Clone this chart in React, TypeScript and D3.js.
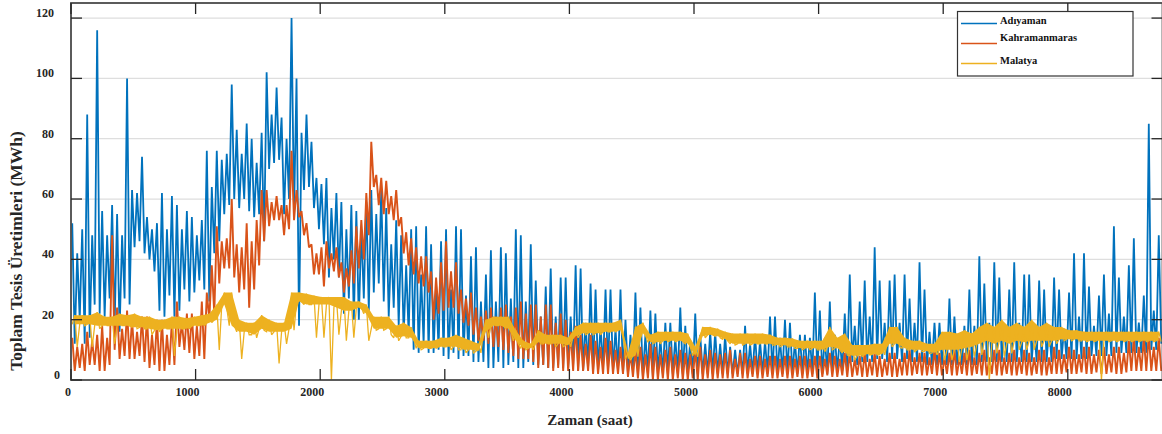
import React, { useRef, useEffect } from "react";
import * as d3 from "d3";

// hourly series summarised in 60 h bins: upper and lower value read per bin
const BIN_HOURS = 60;
// typical swing of each trace, read in 120 h steps
const CORE_HOURS = 120;

const adiyamanHi = [
  52, 50, 88, 116, 56, 58, 55, 100, 63, 74,
  54, 52, 62, 61, 58, 56, 54, 53, 76, 76,
  73, 98, 83, 85, 80, 82, 102, 97, 87, 120,
  100, 88, 79, 65, 67, 62, 59, 58, 56, 59,
  63, 63, 57, 53, 48, 50, 51, 51, 45, 46,
  50, 51, 50, 41, 44, 35, 43, 44, 42, 50,
  48, 45, 33, 31, 37, 34, 34, 38, 37, 32,
  30, 30, 30, 30, 20, 29, 24, 23, 22, 19,
  19, 24, 18, 22, 15, 16, 16, 15, 11, 10,
  18, 15, 13, 21, 21, 20, 19, 15, 15, 29,
  23, 26, 15, 22, 35, 26, 33, 44, 33, 33,
  35, 35, 27, 39, 30, 19, 19, 27, 21, 18,
  30, 41, 32, 39, 34, 30, 39, 35, 35, 33,
  30, 34, 30, 29, 42, 42, 31, 28, 35, 51,
  34, 38, 47, 28, 85, 48,
];
const adiyamanLo = [
  12, 12, 14, 22, 21, 18, 16, 25, 44, 42,
  40, 23, 21, 21, 23, 26, 29, 30, 26, 46,
  55, 60, 57, 56, 54, 46, 70, 73, 55, 55,
  18, 64, 57, 45, 34, 34, 22, 20, 20, 23,
  29, 26, 21, 18, 15, 10, 9, 9, 9, 8,
  7, 7, 8, 6, 6, 4, 4, 4, 5, 4,
  4, 5, 5, 4, 4, 4, 4, 3, 3, 3,
  3, 3, 3, 2, 2, 1, 1, 1, 2, 2,
  2, 2, 2, 2, 2, 2, 2, 2, 2, 2,
  2, 2, 2, 2, 2, 2, 2, 2, 2, 2,
  2, 3, 3, 4, 6, 6, 6, 7, 7, 7,
  7, 7, 6, 6, 5, 5, 5, 5, 5, 5,
  5, 6, 6, 6, 6, 6, 6, 6, 6, 6,
  6, 7, 7, 7, 7, 7, 8, 8, 8, 9,
  9, 9, 9, 9, 10, 12,
];
const adiyamanCoreLo = [
  20, 25, 27, 27, 46, 36, 28, 30, 33, 42,
  58, 60, 55, 72, 60, 63, 50, 40, 27, 27,
  32, 24, 15, 12, 10, 9, 8, 6, 6, 6,
  6, 5, 5, 5, 4, 4, 3, 3, 2, 2,
  2, 2, 2, 2, 2, 2, 2, 2, 2, 2,
  2, 3, 5, 6, 6, 6, 6, 5, 5, 5,
  5, 6, 6, 6, 6, 6, 7, 7, 8, 8,
  9, 9, 10,
];
const adiyamanCoreHi = [
  42, 48, 48, 48, 62, 50, 50, 50, 48, 64,
  75, 75, 72, 88, 80, 82, 67, 57, 50, 50,
  55, 45, 38, 35, 32, 30, 28, 26, 26, 27,
  26, 21, 21, 21, 19, 18, 17, 15, 15, 14,
  14, 13, 12, 12, 10, 12, 13, 14, 13, 14,
  14, 14, 18, 21, 19, 19, 19, 16, 15, 14,
  18, 19, 18, 19, 18, 18, 17, 21, 18, 22,
  21, 19, 23,
];

const kahramanmarasHi = [
  14, 12, 16, 15, 18, 48, 24, 23, 20, 21,
  21, 20, 20, 20, 26, 22, 22, 26, 29, 51,
  46, 60, 45, 52, 46, 63, 63, 61, 58, 76,
  63, 52, 45, 44, 46, 44, 39, 43, 51, 62,
  79, 67, 66, 63, 54, 47, 44, 41, 36, 39,
  46, 39, 30, 29, 24, 23, 24, 24, 25, 24,
  26, 25, 25, 25, 25, 22, 20, 18, 15, 15,
  13, 14, 13, 11, 12, 10, 11, 12, 11, 10,
  11, 10, 9, 10, 11, 10, 9, 9, 10, 9,
  9, 8, 8, 8, 8, 8, 8, 8, 8, 8,
  8, 9, 8, 9, 9, 8, 9, 9, 8, 9,
  9, 9, 10, 9, 9, 10, 9, 9, 10, 9,
  10, 9, 10, 10, 10, 9, 10, 10, 9, 10,
  10, 11, 10, 11, 10, 11, 11, 10, 11, 11,
  11, 13, 14, 14, 15, 14,
];
const kahramanmarasLo = [
  3, 3, 5, 3, 3, 10, 7, 7, 7, 6,
  4, 3, 3, 5, 11, 9, 7, 7, 20, 32,
  37, 34, 29, 24, 30, 46, 51, 53, 48, 53,
  54, 44, 35, 31, 37, 34, 29, 32, 37, 48,
  64, 55, 55, 51, 42, 35, 32, 29, 20, 23,
  24, 22, 19, 15, 13, 12, 11, 10, 9, 7,
  7, 6, 4, 4, 3, 3, 3, 3, 3, 2,
  2, 2, 2, 2, 1, 0.5, 0, 0, 0, 0,
  0, 0, 0, 0, 0, 0, 0.5, 0.5, 0.5, 0.5,
  0.5, 0.5, 0.5, 0.5, 0.5, 0.5, 0.5, 0.5, 0.5, 0.5,
  1, 1, 1, 1, 1, 1, 1, 1, 1, 1,
  1, 1.5, 1.5, 1.5, 1.5, 1.5, 1.5, 1.5, 1.5, 1.5,
  1.5, 1.5, 1.5, 1.5, 1.5, 1.5, 1.5, 1.5, 1.5, 1.5,
  1.5, 2, 2, 2, 2, 2, 2, 2, 2, 2,
  2, 3, 3, 3, 3, 3,
];
const kahramanmarasCoreLo = [
  4, 5, 5, 8, 8, 5, 5, 10, 8, 22,
  37, 30, 38, 53, 50, 48, 35, 36, 31, 40,
  58, 53, 38, 31, 22, 24, 18, 13, 11, 8,
  7, 5, 4, 3, 3, 2, 2, 1, 0.5, 0.5,
  0.5, 0.5, 0.5, 0.5, 1, 1, 1, 1, 1, 1,
  1.5, 1.5, 1.5, 1.5, 1.5, 1.5, 2, 2, 2, 2,
  2, 2, 2, 2, 2, 2, 2.5, 2.5, 2.5, 2.5,
  2.5, 3, 3,
];
const kahramanmarasCoreHi = [
  11, 13, 14, 17, 16, 15, 15, 19, 18, 38,
  47, 44, 53, 59, 58, 56, 42, 42, 37, 53,
  68, 61, 49, 41, 34, 36, 27, 21, 21, 21,
  22, 21, 19, 16, 12, 11, 10, 9, 8.5, 8.5,
  8.5, 8.5, 8.5, 8.5, 7, 7, 7, 7, 7, 7,
  7, 7, 7, 7, 7, 7, 7.5, 7.5, 7.5, 7.5,
  7.5, 7.5, 7.5, 7.5, 7.5, 7.5, 8.5, 8.5, 8.5, 8.5,
  9, 11, 11,
];

const malatyaHi = [
  21.5, 21.5, 21.5, 22.5, 21, 21, 22, 21.5, 22, 21,
  21, 20, 20, 21, 21, 20.5, 21, 21.5, 22, 25,
  29, 29, 20, 19, 19, 21.5, 20, 19, 19, 29,
  29, 28.6, 28, 27.5, 27.5, 27.5, 27.5, 26, 26, 25,
  21, 21, 21, 18, 19, 17.5, 13, 13, 13, 14,
  14, 15, 14, 13, 12, 20, 21, 21, 21, 16.5,
  13, 12, 16.5, 15, 15, 15, 14, 17.6, 19, 19,
  19, 19, 19, 20, 9, 17.6, 19, 15, 16, 16,
  16, 16, 15.4, 11, 17.6, 17.6, 17, 16, 15.4, 15.4,
  15.4, 15.4, 15.4, 15, 14, 14, 13.8, 13, 13, 13,
  13, 17.6, 14, 15.4, 11.6, 11.6, 11.6, 12, 12, 17.6,
  17.6, 14, 13, 13, 12, 12, 16, 16, 15.4, 16.5,
  15.4, 17.6, 19, 17.6, 20, 17.6, 19, 17.6, 20, 17.6,
  19, 17.6, 17.6, 16.5, 16.5, 16, 16, 16, 16, 16,
  16, 16, 16, 16, 16, 16,
];
const malatyaLo = [
  11, 18, 11, 17, 18, 12, 18, 18, 17, 17,
  15, 16, 17, 8, 17, 17, 18, 18, 19, 10,
  24, 18, 7, 15, 14, 16.5, 15, 5.5, 12, 16.5,
  26, 25, 14, 14, 0, 15, 13, 14, 24, 13,
  16.5, 16.5, 15, 13, 14, 14, 10, 10.5, 10.5, 11,
  10, 10, 9, 9, 9, 14, 18, 18, 16.5, 12,
  10, 10, 12, 12, 11, 11, 11, 14, 15, 15,
  15, 16, 16, 16, 6.6, 7.7, 15, 12, 12, 12.7,
  12.7, 12.7, 11, 7.7, 14, 15, 14, 13, 11.6, 11.6,
  11.6, 12, 12, 11.6, 11, 11, 10.5, 10, 10, 10,
  9.4, 10, 10, 8.3, 6.6, 7.7, 8.3, 8.3, 8.3, 11,
  11, 10, 9.4, 9.4, 8.8, 8.3, 6.6, 6.6, 6, 6.6,
  7.7, 8.3, 0, 8.8, 7.7, 8.8, 10, 10, 10, 11,
  11, 12, 13, 13, 13, 12.7, 12.7, 0, 12.7, 12.7,
  12.7, 12.7, 12.7, 12.7, 12.7, 12.7,
];
// lower edge of the thick yellow band, without the short dips
const malatyaCoreLo = [
  18.5, 18.5, 18.5, 18, 18, 18, 18, 18, 17.5, 17.5,
  17, 16.5, 17, 17, 17, 17, 18, 18, 19, 20,
  25, 18, 16, 16, 15, 17, 16, 16, 16, 17,
  26, 25, 25, 25, 25, 24, 23, 23, 24, 22,
  17, 17, 17, 14, 14.5, 14, 10.5, 10.5, 10.5, 11,
  11, 11, 10, 10, 9.5, 16, 18, 18, 17, 13,
  10.5, 10.5, 12.5, 12, 12, 12, 11.5, 14.5, 15.5, 15.5,
  15.5, 16, 16, 16.5, 7, 8, 15.5, 12.5, 12.5, 13,
  13, 13, 12, 8, 14.5, 15, 14.5, 13.5, 12, 12,
  12, 12, 12, 12, 11.5, 11.5, 11, 10.5, 10.5, 10.5,
  10, 11, 10.5, 9, 8, 8, 8.5, 8.5, 8.5, 12,
  12, 10.5, 10, 10, 9.5, 9, 10, 10, 10, 10.5,
  11, 12, 13, 12, 13, 12, 13, 12.5, 13, 13,
  13, 13, 13.5, 13.5, 13.5, 13, 13, 13, 13, 13,
  13, 13, 13, 13, 13, 13,
];

const seriesNames = ["Adıyaman", "Kahramanmaras", "Malatya"];
const seriesColors = ["#0072BD", "#D95319", "#EDB120"];
const xTicks = [0, 1000, 2000, 3000, 4000, 5000, 6000, 7000, 8000];
const yTicks = [0, 20, 40, 60, 80, 100, 120];

type Pt = [number, number];
type Band = [number, number, number];

// walk each 120 h step: bin peak, bin low, typical high, typical low, next bin peak, next bin low
function trace(hi: number[], lo: number[], coreHi: number[], coreLo: number[]): Pt[] {
  const pts: Pt[] = [];
  coreHi.forEach((c, j) => {
    const t0 = j * CORE_HOURS;
    const a = 2 * j;
    const b = 2 * j + 1;
    pts.push([t0 + 10, hi[a]]);
    pts.push([t0 + 30, lo[a]]);
    pts.push([t0 + 50, c]);
    pts.push([t0 + 70, coreLo[j]]);
    if (b < hi.length) {
      pts.push([t0 + 90, hi[b]]);
      pts.push([t0 + 110, lo[b]]);
    }
  });
  return pts;
}

// per 60 h bin: band bottom, band top, lowest dip
function bandTrace(hi: number[], lo: number[], bandLo: number[]): Pt[] {
  const pts: Pt[] = [];
  hi.forEach((h, i) => {
    const t0 = i * BIN_HOURS;
    pts.push([t0 + 10, bandLo[i]]);
    pts.push([t0 + 30, h]);
    pts.push([t0 + 50, lo[i]]);
  });
  return pts;
}

const W = 1162;
const H = 434;
const FONT = "'Liberation Serif', 'Times New Roman', serif";

export default function App() {
  const svgRef = useRef<SVGSVGElement>(null);

  useEffect(() => {
    const svg = d3.select(svgRef.current);
    svg.selectAll("*").remove();

    const left = 71;
    const right = 1162.5;
    const top = 3;
    const bottom = 380;

    const x = d3.scaleLinear().domain([0, 8760]).range([left, right]);
    const y = d3.scaleLinear().domain([0, 125]).range([bottom, top]);

    // grid
    svg
      .append("g")
      .selectAll("line")
      .data(yTicks.filter((d) => d > 0))
      .enter()
      .append("line")
      .attr("x1", left)
      .attr("x2", right)
      .attr("y1", (d) => y(d))
      .attr("y2", (d) => y(d))
      .attr("stroke", "#dedede")
      .attr("stroke-width", 1.3);

    svg
      .append("clipPath")
      .attr("id", "plot-clip")
      .append("rect")
      .attr("x", left)
      .attr("y", top)
      .attr("width", right - left)
      .attr("height", bottom - top);

    const line = d3
      .line<Pt>()
      .x((d) => x(d[0]))
      .y((d) => y(d[1]));

    const area = d3
      .area<Band>()
      .x((d) => x(d[0]))
      .y0((d) => y(d[1]))
      .y1((d) => y(d[2]));

    const plot = svg.append("g").attr("clip-path", "url(#plot-clip)");

    const drawLine = (pts: Pt[], color: string, w: number) =>
      plot
        .append("path")
        .datum(pts)
        .attr("fill", "none")
        .attr("stroke", color)
        .attr("stroke-width", w)
        .attr("stroke-linejoin", "miter")
        .attr("stroke-miterlimit", 2)
        .attr("d", line);

    drawLine(trace(adiyamanHi, adiyamanLo, adiyamanCoreHi, adiyamanCoreLo), seriesColors[0], 1.8);
    drawLine(
      trace(kahramanmarasHi, kahramanmarasLo, kahramanmarasCoreHi, kahramanmarasCoreLo),
      seriesColors[1],
      1.9,
    );

    // Malatya: thick band with its short dips
    const malatyaBand: Band[] = malatyaCoreLo.map((l, i) => [i * BIN_HOURS + 30, l, malatyaHi[i]]);
    plot.append("path").datum(malatyaBand).attr("fill", seriesColors[2]).attr("d", area);
    drawLine(bandTrace(malatyaHi, malatyaLo, malatyaCoreLo), seriesColors[2], 1.3);

    // box
    svg
      .append("rect")
      .attr("x", left)
      .attr("y", top)
      .attr("width", right - left)
      .attr("height", bottom - top)
      .attr("fill", "none")
      .attr("stroke", "#4a4a4a")
      .attr("stroke-width", 1.8);

    // ticks (inside, all four sides)
    const ticks = svg.append("g").attr("stroke", "#262626").attr("stroke-width", 1.3);
    xTicks.forEach((t) => {
      ticks.append("line").attr("x1", x(t)).attr("x2", x(t)).attr("y1", bottom).attr("y2", bottom - 11);
      ticks.append("line").attr("x1", x(t)).attr("x2", x(t)).attr("y1", top).attr("y2", top + 11);
    });
    yTicks.forEach((t) => {
      ticks.append("line").attr("x1", left).attr("x2", left + 11).attr("y1", y(t)).attr("y2", y(t));
      ticks.append("line").attr("x1", right).attr("x2", right - 11).attr("y1", y(t)).attr("y2", y(t));
    });

    // tick labels
    svg
      .append("g")
      .selectAll("text")
      .data(xTicks)
      .enter()
      .append("text")
      .attr("x", (d) => (d === 0 ? x(d) - 3 : x(d) - 8))
      .attr("y", 396)
      .attr("text-anchor", "middle")
      .attr("font-family", FONT)
      .attr("font-weight", "bold")
      .attr("font-size", 12)
      .attr("fill", "#262626")
      .text((d) => d);

    svg
      .append("g")
      .selectAll("text")
      .data(yTicks)
      .enter()
      .append("text")
      .attr("x", (d) => (d === 0 ? 60 : 54))
      .attr("y", (d) => y(d) - 1)
      .attr("text-anchor", "end")
      .attr("font-family", FONT)
      .attr("font-weight", "bold")
      .attr("font-size", 12)
      .attr("fill", "#262626")
      .text((d) => d);

    // axis titles
    svg
      .append("text")
      .attr("x", 590)
      .attr("y", 425)
      .attr("text-anchor", "middle")
      .attr("font-family", FONT)
      .attr("font-weight", "bold")
      .attr("font-size", 15)
      .attr("fill", "#262626")
      .text("Zaman (saat)");

    svg
      .append("text")
      .attr("transform", "rotate(-90)")
      .attr("x", -251)
      .attr("y", 22)
      .attr("text-anchor", "middle")
      .attr("font-family", FONT)
      .attr("font-weight", "bold")
      .attr("font-size", 17.5)
      .attr("fill", "#262626")
      .text("Toplam Tesis Üretimleri (MWh)");

    // legend
    const lg = svg.append("g");
    lg.append("rect")
      .attr("x", 957.5)
      .attr("y", 11.5)
      .attr("width", 175.5)
      .attr("height", 64.5)
      .attr("fill", "#fff")
      .attr("stroke", "#333")
      .attr("stroke-width", 1.2);
    const lineYs = [23.5, 43.5, 63.5];
    const textYs = [24, 40.5, 64];
    seriesNames.forEach((name, i) => {
      lg.append("line")
        .attr("x1", 961)
        .attr("x2", 997)
        .attr("y1", lineYs[i])
        .attr("y2", lineYs[i])
        .attr("stroke", seriesColors[i])
        .attr("stroke-width", 1.3);
      lg.append("text")
        .attr("x", 1000)
        .attr("y", textYs[i])
        .attr("font-family", FONT)
        .attr("font-weight", "bold")
        .attr("font-size", 10.5)
        .attr("fill", "#111")
        .text(name);
    });
  }, []);

  return (
    <svg
      ref={svgRef}
      width={W}
      height={H}
      style={{ position: "absolute", left: 0, top: 0, background: "#fff" }}
    />
  );
}
